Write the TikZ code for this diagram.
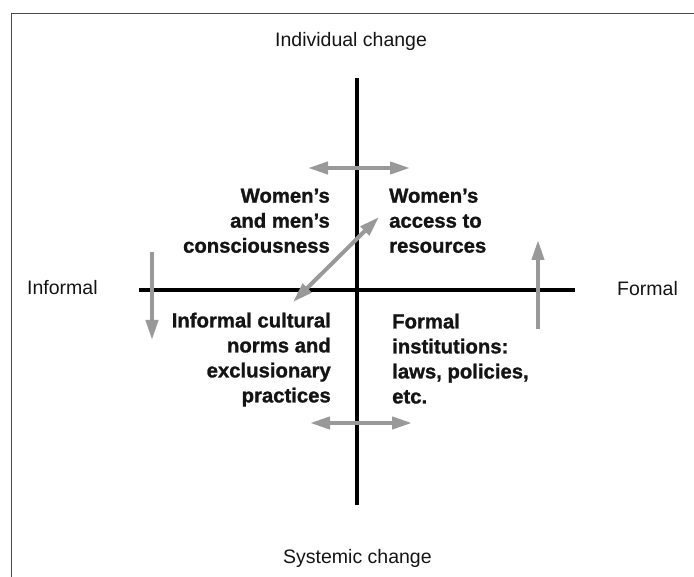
\documentclass[tikz,border=0pt]{standalone}
\usepackage{fontspec}
\setmainfont{Liberation Sans}
\newfontfamily\heavysans{Liberation Sans}[BoldFeatures={FakeBold=1.2}]
\usetikzlibrary{arrows.meta}
\definecolor{arrowgray}{HTML}{999999}
\definecolor{ink}{HTML}{141414}
\definecolor{framegray}{HTML}{4A4A4A}
\begin{document}
\begin{tikzpicture}[x=1pt,y=-1pt,
  axis/.style={line width=3.3pt,black},
  onewayarrow/.style={line width=4pt,arrowgray,-{Triangle[length=20pt,width=12pt]}},
  twowayarrow/.style={line width=4pt,arrowgray,{Triangle[length=20pt,width=12pt]}-{Triangle[length=20pt,width=12pt]}},
  pole/.style={inner sep=0pt,text=ink,font=\fontsize{19.5}{24}\selectfont},
  quadleft/.style={inner sep=0pt,text=ink,align=right,font=\fontsize{20.3}{25}\selectfont\heavysans\bfseries},
  quadright/.style={inner sep=0pt,text=ink,align=left,font=\fontsize{20.3}{25}\selectfont\heavysans\bfseries}]
\useasboundingbox (0,0) rectangle (694,577);
% open frame: top and left edges
\draw[framegray,line width=1.3pt] (11.7,577) -- (11.7,13.3) -- (694,13.3);

% axes
\coordinate (vtop) at (357,78);
\coordinate (vbot) at (357,505);
\coordinate (hleft) at (139,290);
\coordinate (hright) at (575,290);
\draw[axis] (vtop) -- (vbot);
\draw[axis] (hleft) -- (hright);

% pole labels
\node[pole,anchor=base west] (indiv) at (275,47) {Individual change};
\node[pole,anchor=base west] (syst) at (283,563) {Systemic change};
\node[pole,anchor=base west] (inf) at (27,295) {Informal};
\node[pole,anchor=base west] (form) at (617,296) {Formal};

% quadrant texts
\node[quadleft,anchor=north east] (consc) at (330,188.5) {Women’s\\and men’s\\consciousness};
\node[quadright,anchor=north west] (access) at (389,188.5) {Women’s\\access to\\resources};
\node[quadleft,anchor=north east] (norms) at (331,312.5) {Informal cultural\\norms and\\exclusionary\\practices};
\node[quadright,anchor=north west] (inst) at (392,313.5) {Formal\\institutions:\\laws, policies,\\etc.};

% arrows of change
\coordinate (ta) at (308,168);  \coordinate (tb) at (410,168);
\coordinate (ba) at (310,423);  \coordinate (bb) at (412,423);
\coordinate (da) at (293,302);  \coordinate (db) at (379,217);
\coordinate (la) at (152,252);  \coordinate (lb) at (152,340);
\coordinate (ra) at (538,329);  \coordinate (rb) at (538,240);
\draw[twowayarrow] (ta) -- (tb);
\draw[twowayarrow] (ba) -- (bb);
\draw[twowayarrow] (da) -- (db);
\draw[onewayarrow] (la) -- (lb);
\draw[onewayarrow] (ra) -- (rb);
\end{tikzpicture}
\end{document}
